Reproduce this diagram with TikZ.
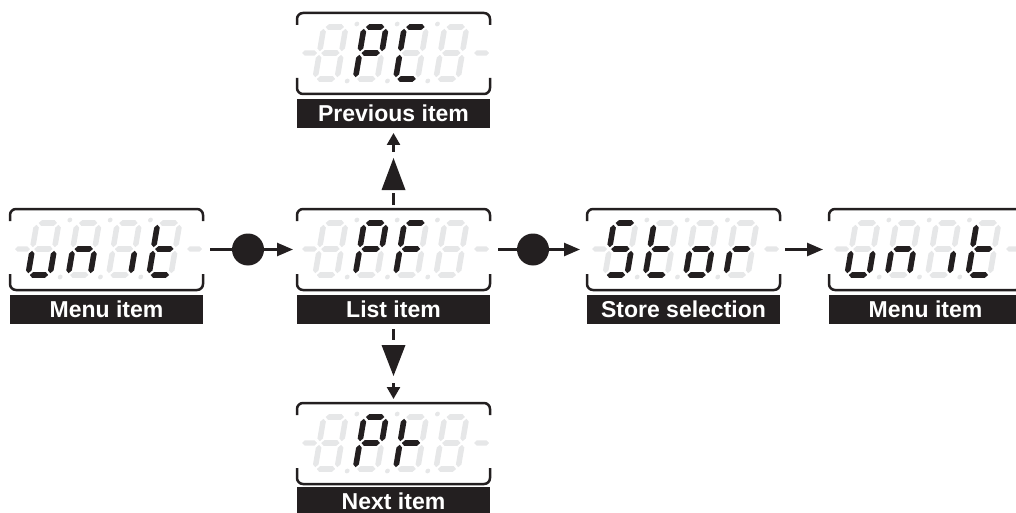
\documentclass[tikz,border=0pt]{standalone}
\usepackage{fontspec}
\setmainfont{Liberation Sans}
\usetikzlibrary{arrows.meta,calc}
\definecolor{ink}{HTML}{231F20}
\definecolor{ghostc}{HTML}{E6E7E8}
\tikzset{
  ghost/.style={fill=ghostc},
  lit/.style={fill=ink},
  frame/.style={draw=ink, line width=2.5pt, rounded corners=6pt},
  dispbox/.style={inner sep=0pt, outer sep=0pt, minimum height=81pt},
  labelbox/.style={fill=ink, text=white, inner sep=0pt, outer sep=0pt, minimum height=29pt,
     font=\bfseries\fontsize{23}{25}\selectfont, text height=16.5pt, text depth=0pt, anchor=north west},
  conn/.style={draw=ink, line width=2.5pt},
  dotnode/.style={circle, fill=ink, inner sep=0pt, outer sep=0pt, minimum size=32pt},
  harrow/.style={-{Triangle[length=16pt,width=13pt]}},
  varrow/.style={-{Triangle[length=12pt,width=13pt]}},
}
% seven segments in local (unslanted) digit coordinates
\newcommand\sega[1]{\fill[#1] (1.8,52) -- (4.6,54.8) -- (17.4,54.8) -- (20.2,52) -- (17.4,49.2) -- (4.6,49.2) -- cycle;}
\newcommand\segg[1]{\fill[#1] (1.8,26) -- (4.6,28.8) -- (17.4,28.8) -- (20.2,26) -- (17.4,23.2) -- (4.6,23.2) -- cycle;}
\newcommand\segd[1]{\fill[#1] (1.8,0) -- (4.6,2.8) -- (17.4,2.8) -- (20.2,0) -- (17.4,-2.8) -- (4.6,-2.8) -- cycle;}
\newcommand\segf[1]{\fill[#1] (0,27.8) -- (2.8,30.6) -- (2.8,47.4) -- (0,50.2) -- (-2.8,47.4) -- (-2.8,30.6) -- cycle;}
\newcommand\sege[1]{\fill[#1] (0,1.8) -- (2.8,4.6) -- (2.8,21.4) -- (0,24.2) -- (-2.8,21.4) -- (-2.8,4.6) -- cycle;}
\newcommand\segb[1]{\fill[#1] (22,27.8) -- (24.8,30.6) -- (24.8,47.4) -- (22,50.2) -- (19.2,47.4) -- (19.2,30.6) -- cycle;}
\newcommand\segc[1]{\fill[#1] (22,1.8) -- (24.8,4.6) -- (24.8,21.4) -- (22,24.2) -- (19.2,21.4) -- (19.2,4.6) -- cycle;}
\newcommand\segn[1]{}
\newcommand\hdash[3]{\fill[ghost] ({#1},{#3}) -- ({#1+2.6},{#3-2.6}) -- ({#2-2.6},{#3-2.6}) -- ({#2},{#3}) -- ({#2-2.6},{#3+2.6}) -- ({#1+2.6},{#3+2.6}) -- cycle;}
\newcommand\sdigit[4]{%
  \begin{scope}[shift={({#1+18+40.3*#3},{#2+66})},x=1pt,y=1pt,xslant=0.17]
    \foreach \s in {a,b,c,d,e,f,g}{\csname seg\s\endcsname{ghost}}
    \ifnum#3<3 \fill[ghost] (32.5,-2) circle[radius=2.4]; \fill[ghost] (32.5,55) circle[radius=2.4];\fi
    \foreach \s in {#4}{\csname seg\s\endcsname{lit}}
  \end{scope}}
\newcommand\sdigits[6]{\sdigit{#1}{#2}{0}{#3}\sdigit{#1}{#2}{1}{#4}\sdigit{#1}{#2}{2}{#5}\sdigit{#1}{#2}{3}{#6}}
\newcommand\disp[4]{%
  \node[dispbox, minimum width={#4-#2}] (#1) at ({(#2+#4)/2},{#3+40.5}) {};
  \draw[frame] ([yshift=-12pt]#1.north west) -- (#1.north west) -- (#1.north east) -- ([yshift=-12pt]#1.north east);
  \draw[frame] ([yshift=16pt]#1.south west) -- (#1.south west) -- (#1.south east) -- ([yshift=16pt]#1.south east);
  \hdash{#2+5}{#2+20}{#3+40}
  \hdash{#4-16}{#4-1}{#3+40}}
\newcommand\lab[5]{\node[labelbox, minimum width={#4-#2}] (#1) at (#2,{#3+86}) {#5};}
\begin{document}
\begin{tikzpicture}[x=1pt,y=-1pt]
\useasboundingbox (0,0) rectangle (1016,513);
\clip (0,0) rectangle (1016,513);
% displays
\disp{d1}{10}{209}{203}
\sdigits{10}{209}{c,d,e}{c,e,g}{c}{d,e,f,g}
\lab{l1}{10}{209}{203}{Menu item}
\disp{d2}{297}{209}{490}
\sdigits{297}{209}{n}{a,b,e,f,g}{a,e,f,g}{n}
\lab{l2}{297}{209}{490}{List item}
\disp{d3}{587}{209}{780}
\sdigits{587}{209}{a,c,d,f,g}{d,e,f,g}{c,d,e,g}{e,g}
\lab{l3}{587}{209}{780}{Store selection}
\disp{d4}{829}{209}{1022}
\sdigits{829}{209}{c,d,e}{c,e,g}{c}{d,e,f,g}
\lab{l4}{829}{209}{1022}{Menu item}
\disp{d5}{297}{13}{490}
\sdigits{297}{13}{n}{a,b,e,f,g}{a,d,e,f}{n}
\lab{l5}{297}{13}{490}{Previous item}
\disp{d6}{297}{403}{490}
\sdigits{297}{403}{n}{a,b,e,f,g}{e,f,g}{n}
\lab{l6}{297}{401}{490}{Next item}
% horizontal connectors
\node[dotnode] (c1) at (248,249.5) {};
\draw[conn] ([xshift=7pt]d1.east) -- (c1);
\draw[conn,harrow] (c1) -- ([xshift=-4pt]d2.west);
\node[dotnode] (c2) at (533,249.5) {};
\draw[conn] ([xshift=8pt]d2.east) -- (c2);
\draw[conn,harrow] (c2) -- ([xshift=-7pt]d3.west);
\draw[conn,harrow] ([xshift=5pt]d3.east) -- ([xshift=-6pt]d4.west);
% vertical connector up
\coordinate (tub) at (393.5,190);
\coordinate (tua) at (393.5,158);
\fill[ink] (tua) -- ([xshift=-12pt]tub) -- ([xshift=12pt]tub) -- cycle;
\draw[conn] ([yshift=4pt]d2.north) -- ([yshift=-3pt]tub);
\draw[conn,varrow] ([yshift=6pt]tua) -- ([yshift=-5pt]l5.south);
% vertical connector down
\coordinate (tdb) at (393.5,345);
\coordinate (tda) at (393.5,376);
\fill[ink] (tda) -- ([xshift=-12pt]tdb) -- ([xshift=12pt]tdb) -- cycle;
\draw[conn] ([yshift=-5pt]l2.south) -- ([yshift=5pt]tdb);
\draw[conn,varrow] ([yshift=-7pt]tda) -- ([yshift=4pt]d6.north);
\end{tikzpicture}
\end{document}
